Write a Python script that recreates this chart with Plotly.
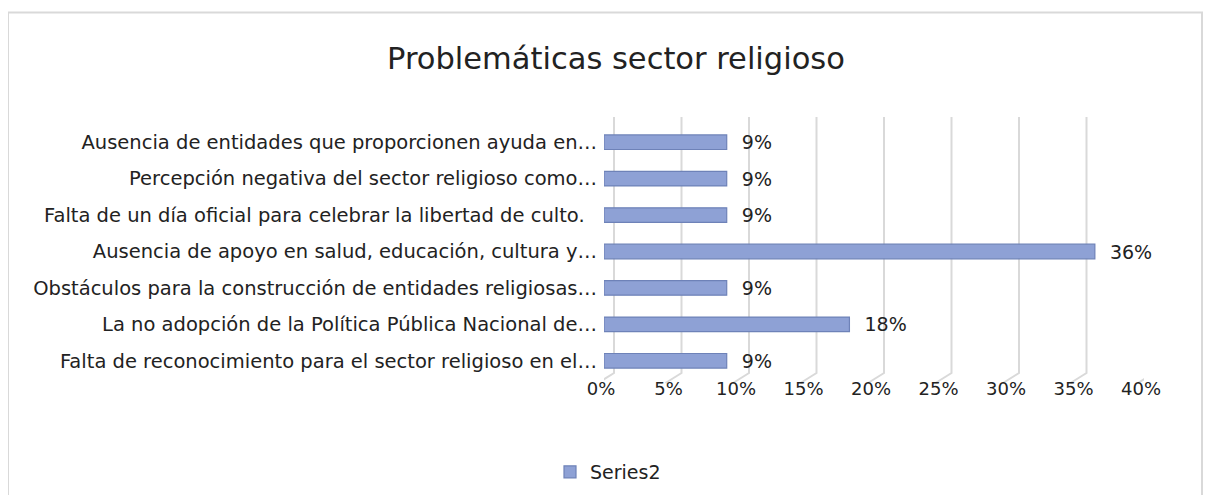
import plotly.graph_objects as go

# categories listed top to bottom, as shown in the chart
categories = [
    "Ausencia de entidades que proporcionen ayuda en…",
    "Percepción negativa del sector religioso como…",
    "Falta de un día oficial para celebrar la libertad de culto.\u00a0\u00a0",
    "Ausencia de apoyo en salud, educación, cultura y…",
    "Obstáculos para la construcción de entidades religiosas…",
    "La no adopción de la Política Pública Nacional de…",
    "Falta de reconocimiento para el sector religioso en el…",
]
values = [0.0909, 0.0909, 0.0909, 0.3636, 0.0909, 0.1818, 0.0909]
labels = ["9%", "9%", "9%", "36%", "9%", "18%", "9%"]
series_name = "Series2"
x_ticks = [0, 0.05, 0.10, 0.15, 0.20, 0.25, 0.30, 0.35, 0.40]

# the page body has an 8px margin, so the figure is drawn 8px in
OFF = 8
W, H = 1211 - 2 * OFF, 503 - 2 * OFF
ml, mt = 604 - OFF, 123.75 - OFF
pw, ph = 540, 255.5
mr, mb = W - ml - pw, H - mt - ph

font = "DejaVu Sans, sans-serif"
txt = "#222222"


def px_x(p):
    # page pixel -> paper x
    return (p - OFF - ml) / pw


def px_y(p):
    # page pixel -> paper y
    return 1 - (p - OFF - mt) / ph


fig = go.Figure()
fig.add_trace(go.Bar(
    y=categories, x=values, orientation="h",
    name=series_name,
    marker=dict(color="#8EA1D5", line=dict(color="#6E82B8", width=1.2)),
    width=0.4,
    text=["  " + t for t in labels],
    textposition="outside",
    constraintext="none",
    textfont=dict(size=19, color=txt, family=font),
    cliponaxis=False,
))

# 3D-style gridlines: vertical line set back a little, with a slanted foot
shapes = []
for t in x_ticks:
    shapes.append(dict(
        type="path", xref="x", yref="paper",
        xsizemode="pixel", ysizemode="pixel", xanchor=t, yanchor=0,
        path="M -6,-4 L 10,6 L 10,262",
        line=dict(color="#D9D9D9", width=2), layer="below",
    ))
shapes.append(dict(type="rect", xref="paper", yref="paper",
                   x0=px_x(8), x1=px_x(1202), y0=px_y(520), y1=px_y(12),
                   line=dict(color="#D9D9D9", width=2), layer="below"))

fig.update_layout(
    width=W, height=H,
    margin=dict(l=ml, r=mr, t=mt, b=mb, autoexpand=False),
    paper_bgcolor="white", plot_bgcolor="white",
    font=dict(family=font, size=18, color=txt),
    title=dict(text="Problemáticas sector religioso", x=(616 - OFF) / W, xref="container",
               xanchor="center", y=1 - (58 - OFF) / H, yanchor="middle",
               font=dict(size=30.5, color=txt, family=font)),
    xaxis=dict(range=[0, 0.40], tickvals=x_ticks, tickformat=".0%",
               showgrid=False, zeroline=False, showline=False, ticks="",
               ticklabelstandoff=-3, ticklabelshift=-3, tickfont=dict(size=18)),
    yaxis=dict(autorange="reversed", showgrid=False, ticks="", showline=False,
               ticklabelstandoff=6, tickfont=dict(size=19.5)),
    showlegend=True,
    legend=dict(orientation="h", xref="container", yref="container",
                x=(550 - OFF) / W, xanchor="left", y=1 - (472 - OFF) / H, yanchor="middle",
                font=dict(size=19), itemwidth=30),
    bargap=0.6,
    shapes=shapes,
)

fig.write_html("out.html")
